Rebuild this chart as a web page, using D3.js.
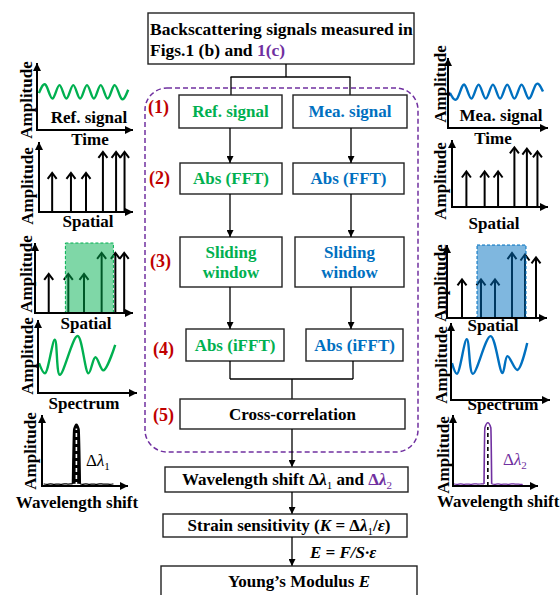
<!DOCTYPE html>
<html>
<head>
<meta charset="utf-8">
<script src="https://cdn.jsdelivr.net/npm/d3@7"></script>
<style>
body { margin: 0; background: #fff; }
svg { display: block; }
text { font-family: "Liberation Serif", "Times New Roman", serif; font-weight: bold; }
</style>
</head>
<body>
<svg width="560" height="595"></svg>
<script>
// ---- data ----
var stepNums = ["(1)", "(2)", "(3)", "(4)", "(5)"];
var refSteps = ["Ref. signal", "Abs (FFT)", "Sliding|window", "Abs (iFFT)"];
var meaSteps = ["Mea. signal", "Abs (FFT)", "Sliding|window", "Abs (iFFT)"];

// time signals (peaks / troughs, % of axis height)
var refWave = [55, 67, 47, 67, 47, 67, 47, 67, 47, 67, 47, 67, 47, 60];
var meaWave = [50, 42, 62, 42, 62, 42, 62, 42, 62, 42, 62, 42, 62, 52];

// spatial impulses (position %, amplitude %)
var refSpatialX = [14, 34, 50, 68, 82, 91];
var refSpatialAmp = [56, 56, 56, 86, 86, 86];
var meaSpatialX = [15, 34, 48, 65, 78, 89];
var meaSpatialAmp = [53, 53, 53, 89, 87, 83];

// sliding window extent (%)
var refWindow = [31, 80];
var meaWindow = [30, 79];

// windowed spectra
var refSpecX = [1, 7, 17, 22, 40, 51, 58, 66, 78];
var refSpecY = [41, 27, 73, 25, 78, 27, 49, 31, 66];
var meaSpecX = [1, 6, 16, 22, 40, 52, 57, 67, 77];
var meaSpecY = [48, 34, 79, 34, 83, 35, 57, 39, 74];

// cross-correlation traces
var corrRefX = [2, 6, 10, 14, 18, 22, 26, 30, 34, 35.5, 37, 40, 43, 44.5, 47, 51, 55, 59, 63, 67, 71, 75, 79, 83];
var corrRefY = [3, 2, 3.5, 2, 3, 2, 3.5, 2.5, 3, 3, 80, 87, 80, 3, 2, 3.5, 2, 3, 2, 3.5, 2.5, 3, 2, 3];
var corrMeaX = [1, 5, 9, 13, 17, 21, 25, 29, 33, 36.5, 37.5, 41, 44.5, 45.5, 49, 53, 57, 61, 65, 69, 73, 77, 82];
var corrMeaY = [3, 2, 3.5, 2, 3, 2, 3.5, 2.5, 3, 3, 82, 89, 82, 3, 2, 3.5, 2, 3, 2, 3.5, 2.5, 3, 2];

var green = "#00b050", blue = "#0070c0", red = "#c00000", purple = "#7030a0";

var svg = d3.select("svg");
var defs = svg.append("defs");

function marker(id, w, h) {
  defs.append("marker")
    .attr("id", id)
    .attr("viewBox", "0 0 10 10")
    .attr("refX", 10).attr("refY", 5)
    .attr("markerUnits", "userSpaceOnUse")
    .attr("markerWidth", w).attr("markerHeight", h)
    .attr("orient", "auto")
    .append("path").attr("d", "M0,0L10,5L0,10z").attr("fill", "#000");
}
marker("flow", 8, 7);
marker("ax", 9, 8);

// ---- flowchart helpers ----
function line(x1, y1, x2, y2, head) {
  var l = svg.append("line")
    .attr("x1", x1).attr("y1", y1).attr("x2", x2).attr("y2", y2)
    .attr("stroke", "#000").attr("stroke-width", 1.3);
  if (head) l.attr("marker-end", "url(#flow)");
}

function box(x0, y0, x1, y1) {
  svg.append("rect")
    .attr("x", x0).attr("y", y0).attr("width", x1 - x0).attr("height", y1 - y0)
    .attr("fill", "#fff").attr("stroke", "#222").attr("stroke-width", 1.4);
}

function label(x, y, str, color, size) {
  var lines = str.split("|");
  lines.forEach(function(s, i) {
    svg.append("text")
      .attr("x", x).attr("y", y + (i - (lines.length - 1) / 2) * 20)
      .attr("dy", "0.35em")
      .attr("text-anchor", "middle")
      .attr("font-size", size || 17)
      .attr("fill", color)
      .text(s);
  });
}

// parts: [text, color, italic, sub]
function rich(x, y, parts, anchor, size) {
  size = size || 17;
  var t = svg.append("text")
    .attr("x", x).attr("y", y)
    .attr("text-anchor", anchor || "middle")
    .attr("font-size", size);
  var shifted = false;
  parts.forEach(function(p) {
    var ts = t.append("tspan").attr("fill", p[1] || "#000").text(p[0]);
    if (p[2]) ts.attr("font-style", "italic");
    if (p[3]) { ts.attr("font-size", size * 0.65).attr("dy", 4).attr("font-weight", "normal"); shifted = true; }
    else if (shifted) { ts.attr("dy", -4); shifted = false; }
  });
  return t;
}

// dashed processing frame
svg.append("rect")
  .attr("x", 145).attr("y", 88).attr("width", 273).attr("height", 364)
  .attr("rx", 22).attr("ry", 22)
  .attr("fill", "none").attr("stroke", purple)
  .attr("stroke-width", 1.5).attr("stroke-dasharray", "5,3");

// top box
box(148, 13, 414, 64);
svg.append("text").attr("x", 150).attr("y", 35).attr("font-size", 17.5)
  .text("Backscattering signals measured in");
rich(150, 56, [["Figs.1 (b) and "], ["1(c)", purple]], "start", 17.5);

line(286, 64, 286, 77);
line(230.5, 77, 350.5, 77);
line(231, 77, 231, 95);
line(350, 77, 350, 95);

// two processing columns
var rowsL = [[179, 95, 282, 128], [180, 163, 282, 194], [180, 237, 282, 287], [186, 329, 284, 361]];
var rowsR = [[293, 95, 407, 128], [293, 163, 404, 194], [295, 237, 404, 287], [306, 329, 403, 361]];
var colL = 230, colR = 351;

rowsL.forEach(function(r, i) {
  box(r[0], r[1], r[2], r[3]);
  label((r[0] + r[2]) / 2, (r[1] + r[3]) / 2, refSteps[i], green);
  if (i > 0) line(colL, rowsL[i - 1][3], colL, r[1], true);
});
rowsR.forEach(function(r, i) {
  box(r[0], r[1], r[2], r[3]);
  label((r[0] + r[2]) / 2, (r[1] + r[3]) / 2, meaSteps[i], blue);
  if (i > 0) line(colR, rowsR[i - 1][3], colR, r[1], true);
});

// merge into cross-correlation
line(colL, 361, colL, 379);
line(353, 361, 353, 379);
line(colL, 379, 353, 379);
line(292, 379, 292, 399);
box(180, 399, 405, 429);
label(292.5, 414, "Cross-correlation", "#000");

// step numbers
var numY = [107, 178, 261, 349, 415];
var numX = [148, 149, 150, 153, 153];
stepNums.forEach(function(s, i) {
  svg.append("text").attr("x", numX[i]).attr("y", numY[i]).attr("dy", "0.35em")
    .attr("font-size", 18).attr("fill", red).text(s);
});

// lower chain
line(292, 429, 292, 467, true);
box(165, 467, 408, 492);
rich(287, 485, [["Wavelength shift \u0394"], ["\u03bb", null, true], ["1", null, false, true], ["  and "], ["\u0394", purple], ["\u03bb", purple, true], ["2", purple, false, true]]);

line(292, 492, 292, 514, true);
box(163, 514, 407, 537);
rich(289, 531, [["Strain sensitivity ("], ["K", null, true], [" = \u0394"], ["\u03bb", null, true], ["1", null, false, true], ["/"], ["\u03b5", null, true], [")"]]);

line(292, 537, 292, 566, true);
rich(310, 558, [["E = F/S\u00b7\u03b5", null, true]], "start");
box(161, 566, 417, 605);
rich(299, 587, [["Young\u2019s Modulus "], ["E", null, true]]);

// ---- small sketch panels ----
function panel(p) {
  var x = d3.scaleLinear().domain([0, 100]).range([p.ox, p.right]);
  var y = d3.scaleLinear().domain([0, 100]).range([p.oy, p.top]);
  var g = svg.append("g");
  return { g: g, x: x, y: y, p: p };
}

function axes(pp) {
  var p = pp.p;
  pp.g.append("line")
    .attr("x1", pp.x(0)).attr("y1", pp.y(0) + 1).attr("x2", pp.x(0)).attr("y2", pp.y(100))
    .attr("stroke", "#000").attr("stroke-width", 2).attr("marker-end", "url(#ax)");
  pp.g.append("line")
    .attr("x1", pp.x(0) - 1).attr("y1", pp.y(0)).attr("x2", pp.x(100)).attr("y2", pp.y(0))
    .attr("stroke", "#000").attr("stroke-width", 2).attr("marker-end", "url(#ax)");
  svg.append("text")
    .attr("transform", "translate(" + p.ax + "," + p.ay + ") rotate(-90)")
    .attr("text-anchor", "middle").attr("dy", "0.35em")
    .attr("font-size", 17).text("Amplitude");
  p.caps.forEach(function(c) {
    svg.append("text").attr("x", c[0]).attr("y", c[1])
      .attr("text-anchor", c[3] || "middle").attr("font-size", 17).text(c[2]);
  });
}

function wave(pp, vals, x0, x1, color) {
  var px = d3.scalePoint().domain(d3.range(vals.length)).range([pp.x(x0), pp.x(x1)]);
  pp.g.append("path")
    .attr("d", d3.line().x(function(d, i) { return px(i); }).y(function(d) { return pp.y(d); })
      .curve(d3.curveNatural)(vals))
    .attr("fill", "none").attr("stroke", color).attr("stroke-width", 2.4);
}

function impulses(pp, xs, amps) {
  xs.forEach(function(v, i) {
    var cx = pp.x(v), tip = pp.y(amps[i]);
    pp.g.append("line").attr("x1", cx).attr("y1", pp.y(0)).attr("x2", cx).attr("y2", tip + 1)
      .attr("stroke", "#000").attr("stroke-width", 2);
    pp.g.append("path").attr("d", "M" + (cx - 4.5) + "," + (tip + 6) + "L" + cx + "," + tip + "L" + (cx + 4.5) + "," + (tip + 6))
      .attr("fill", "none").attr("stroke", "#000").attr("stroke-width", 2);
  });
}

function windowRect(pp, ext, color) {
  pp.g.append("rect")
    .attr("x", pp.x(ext[0])).attr("y", pp.y(100))
    .attr("width", pp.x(ext[1]) - pp.x(ext[0])).attr("height", pp.y(0) - pp.y(100))
    .attr("fill", color).attr("fill-opacity", 0.5)
    .attr("stroke", color).attr("stroke-width", 1).attr("stroke-dasharray", "3,2");
}

function spectrum(pp, xs, ys, color) {
  var pts = xs.map(function(v, i) { return [pp.x(v), pp.y(ys[i])]; });
  pp.g.append("path").attr("d", d3.line().curve(d3.curveCatmullRom.alpha(0.5))(pts))
    .attr("fill", "none").attr("stroke", color).attr("stroke-width", 2.4);
}

function corr(pp, xs, ys, color, fill, dash) {
  var pts = xs.map(function(v, i) { return [pp.x(v), pp.y(ys[i])]; });
  var peak = d3.maxIndex(ys);
  pp.g.append("path").attr("d", d3.line().curve(d3.curveMonotoneX)(pts.slice(peak - 2, peak + 3)))
    .attr("fill", fill).attr("stroke", color).attr("stroke-width", 1.6);
  pp.g.append("path").attr("d", d3.line().curve(d3.curveBasis)(pts.slice(0, peak - 1)))
    .attr("fill", "none").attr("stroke", color).attr("stroke-width", 1.2);
  pp.g.append("path").attr("d", d3.line().curve(d3.curveBasis)(pts.slice(peak + 2)))
    .attr("fill", "none").attr("stroke", color).attr("stroke-width", 1.2);
  pp.g.append("line").attr("x1", pp.x(xs[peak])).attr("x2", pp.x(xs[peak]))
    .attr("y1", pp.y(0)).attr("y2", pp.y(ys[peak] - 6))
    .attr("stroke", dash).attr("stroke-width", 1.6).attr("stroke-dasharray", "4,3");
}

// left column (reference)
var L1 = panel({ ox: 37, oy: 130, top: 63, right: 133, ax: 26, ay: 100,
  caps: [[89, 123, "Ref. signal"], [90, 145, "Time"]] });
wave(L1, refWave, 2, 95, green);
axes(L1);

var L2 = panel({ ox: 39, oy: 212, top: 142, right: 133, ax: 27, ay: 186,
  caps: [[88, 227, "Spatial"]] });
impulses(L2, refSpatialX, refSpatialAmp);
axes(L2);

var L3 = panel({ ox: 35, oy: 313, top: 243, right: 133, ax: 26, ay: 274,
  caps: [[86, 329, "Spatial"]] });
impulses(L3, refSpatialX, refSpatialAmp);
windowRect(L3, refWindow, green);
axes(L3);

var L4 = panel({ ox: 38, oy: 393, top: 320, right: 137, ax: 27, ay: 356,
  caps: [[84, 409, "Spectrum"]] });
spectrum(L4, refSpecX, refSpecY, green);
axes(L4);

var L5 = panel({ ox: 42, oy: 486, top: 415, right: 128, ax: 30, ay: 451,
  caps: [[77, 508, "Wavelength shift"]] });
corr(L5, corrRefX, corrRefY, "#000", "#000", "#fff");
axes(L5);
rich(86, 466, [["\u0394", null, false], ["\u03bb", null, true], ["1", null, false, true]], "start", 17)
  .selectAll("tspan").attr("font-weight", "normal");

// right column (measured)
var R1 = panel({ ox: 448, oy: 128, top: 58, right: 548, ax: 440, ay: 84,
  caps: [[501, 121, "Mea. signal"], [493, 144, "Time"]] });
wave(R1, meaWave, 2, 95, blue);
axes(R1);

var R2 = panel({ ox: 452, oy: 207, top: 140, right: 548, ax: 440, ay: 181,
  caps: [[494, 229, "Spatial"]] });
impulses(R2, meaSpatialX, meaSpatialAmp);
axes(R2);

var R3 = panel({ ox: 447, oy: 318, top: 245, right: 547, ax: 440, ay: 283,
  caps: [[493, 331, "Spatial"]] });
impulses(R3, meaSpatialX, meaSpatialAmp);
windowRect(R3, meaWindow, blue);
axes(R3);

var R4 = panel({ ox: 451, oy: 400, top: 323, right: 550, ax: 441, ay: 365,
  caps: [[503, 410, "Spectrum"]] });
spectrum(R4, meaSpecX, meaSpecY, blue);
axes(R4);

var R5 = panel({ ox: 453, oy: 486, top: 415, right: 538, ax: 443, ay: 455,
  caps: [[437, 507, "Wavelength shift", "start"]] });
corr(R5, corrMeaX, corrMeaY, purple, "#fff", "#000");
axes(R5);
rich(503, 465, [["\u0394", purple], ["\u03bb", purple, true], ["2", purple, false, true]], "start", 17)
  .selectAll("tspan").attr("font-weight", "normal");
</script>
</body>
</html>
